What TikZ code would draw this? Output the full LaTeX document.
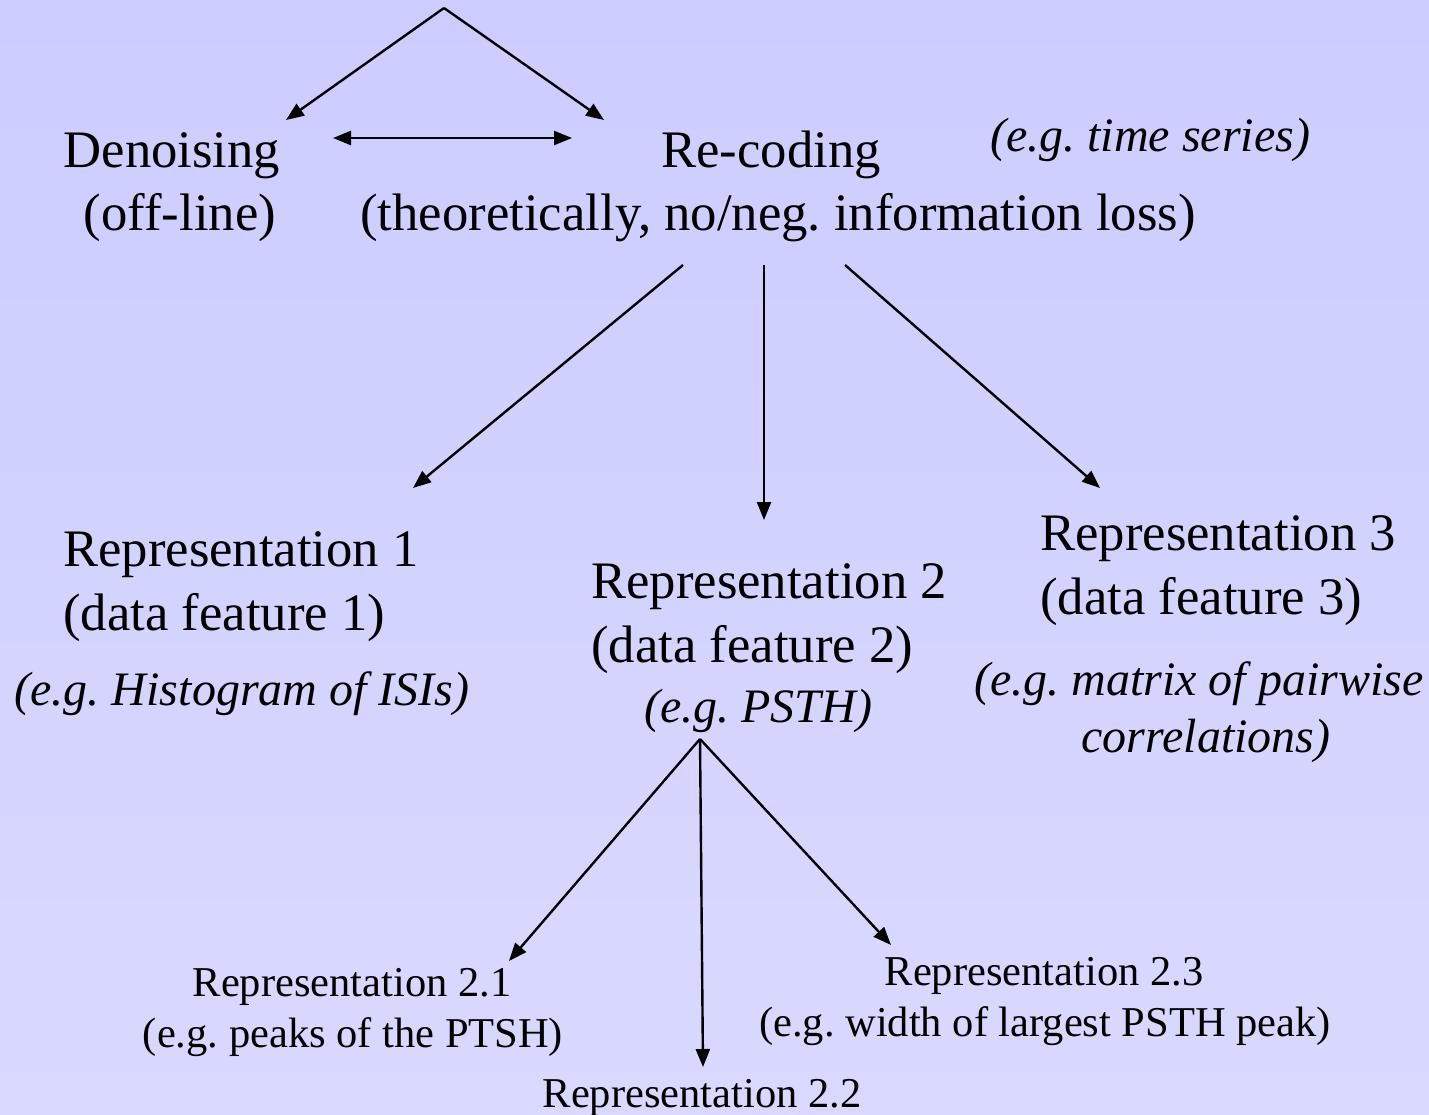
\documentclass[tikz,border=0pt]{standalone}
\usepackage{fontspec}
\setmainfont{Liberation Serif}
\usetikzlibrary{arrows.meta}
\definecolor{bgtop}{RGB}{204,204,255}
\definecolor{bgbot}{RGB}{217,217,255}
\frenchspacing
\tikzset{
  big/.style={inner sep=0pt, anchor=base, font=\fontsize{52.7}{63}\selectfont},
  bigl/.style={inner sep=0pt, anchor=base west, font=\fontsize{52.7}{63}\selectfont},
  ital/.style={inner sep=0pt, anchor=base, font=\fontsize{48}{58}\selectfont\itshape},
  small/.style={inner sep=0pt, anchor=base, font=\fontsize{42.5}{52}\selectfont},
  conn/.style={line width=2.4pt, -{Triangle[length=18pt,width=14pt]}},
  conn2/.style={line width=2.4pt, {Triangle[length=18pt,width=14pt]}-{Triangle[length=18pt,width=14pt]}}
}
\begin{document}
\begin{tikzpicture}[x=1pt,y=-1pt]
\useasboundingbox (0,0) rectangle (1429,1114);
\shade[top color=bgtop, bottom color=bgbot] (0,0) rectangle (1429,1114);

% text
\node[big] (den) at (172,167) {Denoising};
\node[big] (denb) at (180,230) {(off-line)};
\node[big] (rec) at (771,167) {Re-coding};
\node[big] (recb) at (778,230) {(theoretically, no/neg. information loss)};
\node[ital] (eg0) at (1150,151) {(e.g. time series)};

\node[bigl] (r1) at (63,566) {Representation 1};
\node[bigl] (r1b) at (63,630) {(data feature 1)};
\node[ital] (r1c) at (242,705) {(e.g. Histogram of ISIs)};

\node[bigl] (r2) at (591,598) {Representation 2};
\node[bigl] (r2b) at (591,662) {(data feature 2)};
\node[ital] (r2c) at (758,722) {(e.g. PSTH)};

\node[bigl] (r3) at (1040,550) {Representation 3};
\node[bigl] (r3b) at (1040,614) {(data feature 3)};
\node[ital] (r3c) at (1199,695) {(e.g. matrix of pairwise};
\node[ital] (r3d) at (1206,752) {correlations)};

\node[small] (r21) at (352,996) {Representation 2.1};
\node[small] (r21b) at (353,1047) {(e.g. peaks of the PTSH)};
\node[small] (r22) at (702,1107) {Representation 2.2};
\node[small] (r23) at (1044,985) {Representation 2.3};
\node[small] (r23b) at (1045,1036) {(e.g. width of largest PSTH peak)};

% connector end points
\coordinate (apex) at (444,8);
\coordinate (tdl) at (286,120);
\coordinate (tdr) at (604,120);
\coordinate (dl) at (333,138);
\coordinate (dr) at (572,138);
\coordinate (ra) at (683,265);
\coordinate (rb) at (764,265);
\coordinate (rc) at (845,265);
\coordinate (t1) at (413,488);
\coordinate (t2) at (764,520);
\coordinate (t3) at (1100,488);
\coordinate (apex2) at (700,739);
\coordinate (u1) at (509,961);
\coordinate (u2) at (703,1067);
\coordinate (u3) at (891,945);

\draw[conn] (apex) -- (tdl);
\draw[conn] (apex) -- (tdr);
\draw[conn2] (dl) -- (dr);
\draw[conn] (ra) -- (t1);
\draw[conn] (rb) -- (t2);
\draw[conn] (rc) -- (t3);
\draw[conn] (apex2) -- (u1);
\draw[conn] (apex2) -- (u2);
\draw[conn] (apex2) -- (u3);
\end{tikzpicture}
\end{document}
